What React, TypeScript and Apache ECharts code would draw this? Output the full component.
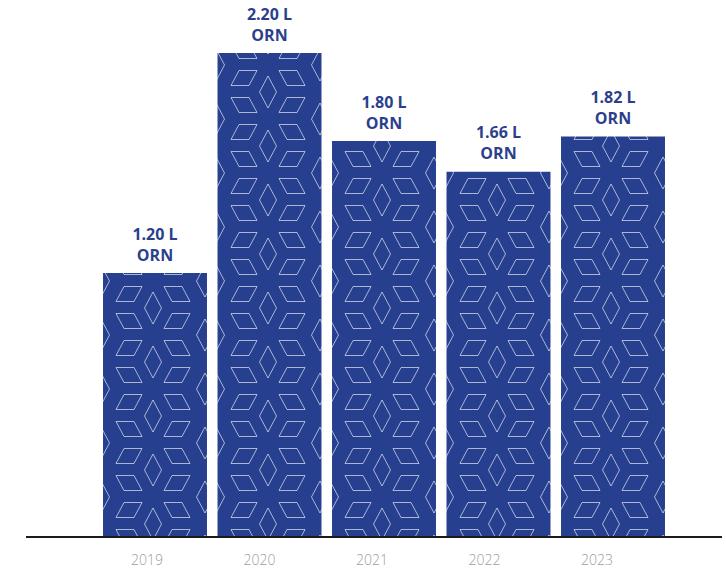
import React, { useEffect, useRef } from "react";
import * as echarts from "echarts";

// Annual volumes, in litres of ORN
const years = ["2019", "2020", "2021", "2022", "2023"];
const volumes = [1.2, 2.2, 1.8, 1.66, 1.82];
const unitText = "L";
const currencyText = "ORN";

const BAR_BLUE = "#263f8f";
const LABEL_BLUE = "#2b3f8c";
const YEAR_GREY = "#9e9e9e";
const BAR_RATIO = 0.908;

// Repeating tile for the bar texture: vertical diamonds surrounded by slanted parallelograms
const TILE_W = 104;
const TILE_H = 54;

const mod = (a: number, n: number) => ((a % n) + n) % n;

// Builds a tile whose motif is shifted by (ox, oy), so that the texture
// sits at the same place relative to every bar.
function buildTile(ox: number, oy: number): HTMLCanvasElement {
  const c = document.createElement("canvas");
  c.width = TILE_W;
  c.height = TILE_H;
  const g = c.getContext("2d")!;
  g.fillStyle = BAR_BLUE;
  g.fillRect(0, 0, TILE_W, TILE_H);
  g.strokeStyle = "rgba(255,255,255,0.62)";
  g.lineWidth = 1;
  const poly = (pts: number[][]) => {
    g.beginPath();
    pts.forEach(([x, y], i) => (i ? g.lineTo(x, y) : g.moveTo(x, y)));
    g.closePath();
    g.stroke();
  };
  const diamond = (cx: number, cy: number) =>
    poly([
      [cx, cy - 16],
      [cx + 8.5, cy],
      [cx, cy + 16],
      [cx - 8.5, cy],
    ]);
  // lean 1 draws "/", lean -1 draws "\"
  const para = (cx: number, cy: number, lean: number) => {
    const s = 4 * lean;
    poly([
      [cx - 9 + s, cy - 7.5],
      [cx + 9 + s, cy - 7.5],
      [cx + 9 - s, cy + 7.5],
      [cx - 9 - s, cy + 7.5],
    ]);
  };
  for (const tx of [-2, -1, 0, 1]) {
    for (const ty of [-2, -1, 0, 1]) {
      const dx = ox + tx * TILE_W;
      const dy = oy + ty * TILE_H;
      diamond(52 + dx, 27 + dy);
      diamond(0 + dx, 0 + dy);
      para(28 + dx, 13 + dy, 1);
      para(28 + dx, 40 + dy, -1);
      para(76 + dx, 13 + dy, -1);
      para(76 + dx, 40 + dy, 1);
    }
  }
  return c;
}

// Texture columns follow each bar's left edge; rows are counted up from the bar's base.
const tileCache: Record<string, HTMLCanvasElement> = {};
function tileFor(left: number, base: number) {
  const ox = mod(Math.round(left - 2), TILE_W);
  const oy = mod(Math.round(base - 13 - 27), TILE_H);
  const key = ox + "_" + oy;
  if (!tileCache[key]) tileCache[key] = buildTile(ox, oy);
  return tileCache[key];
}

export default function App() {
  const ref = useRef<HTMLDivElement>(null);

  useEffect(() => {
    document.body.style.margin = "0";
    if (!ref.current) return;
    const chart = echarts.init(ref.current, null, { renderer: "svg" });

    const option: any = {
      animation: false,
      backgroundColor: "#ffffff",
      grid: [
        { left: 97.75, right: 55.75, top: 53, bottom: 32 },
        { left: 90.75, right: 72.75, top: 53, bottom: 32 },
      ],
      xAxis: [
        {
          type: "category",
          gridIndex: 0,
          data: years,
          axisLine: { show: false },
          axisTick: { show: false },
          axisLabel: { show: false },
        },
        {
          type: "category",
          gridIndex: 1,
          data: years,
          axisLine: { show: false },
          axisTick: { show: false },
          axisLabel: {
            show: true,
            margin: 15,
            color: YEAR_GREY,
            fontSize: 14,
            fontWeight: 300,
            fontFamily: "Open Sans",
          },
        },
      ],
      yAxis: [
        { type: "value", gridIndex: 0, min: 0, max: 2.2, show: false },
        { type: "value", gridIndex: 1, min: 0, max: 2.2, show: false },
      ],
      series: [
        {
          type: "custom",
          xAxisIndex: 0,
          yAxisIndex: 0,
          data: volumes.map((v, i) => [i, v]),
          renderItem: (params: any, api: any) => {
            const v = api.value(1);
            const top = api.coord([api.value(0), v]);
            const base = api.coord([api.value(0), 0]);
            const w = api.size([1, 0])[0] * BAR_RATIO;
            const x = top[0] - w / 2;
            const h = base[1] - top[1];
            return {
              type: "group",
              children: [
                {
                  type: "rect",
                  shape: { x, y: top[1], width: w, height: h },
                  style: {
                    fill: {
                      type: "pattern",
                      image: tileFor(x, base[1]),
                      repeat: "repeat",
                      imageWidth: TILE_W,
                      imageHeight: TILE_H,
                    },
                  },
                },
                {
                  type: "text",
                  x: top[0],
                  y: top[1] - 8,
                  style: {
                    text: `${v.toFixed(2)} ${unitText}\n${currencyText}`,
                    align: "center",
                    verticalAlign: "bottom",
                    fill: LABEL_BLUE,
                    fontSize: 16,
                    lineHeight: 21,
                    fontWeight: 700,
                    fontFamily: "Open Sans",
                  },
                },
              ],
            };
          },
        },
      ],
      graphic: [
        {
          type: "line",
          z: 100,
          shape: { x1: 26, y1: 537, x2: 722, y2: 537 },
          style: { stroke: "#1a1a1a", lineWidth: 2 },
        },
      ],
    };

    chart.setOption(option);
    return () => chart.dispose();
  }, []);

  return <div ref={ref} style={{ width: 726, height: 569 }} />;
}
